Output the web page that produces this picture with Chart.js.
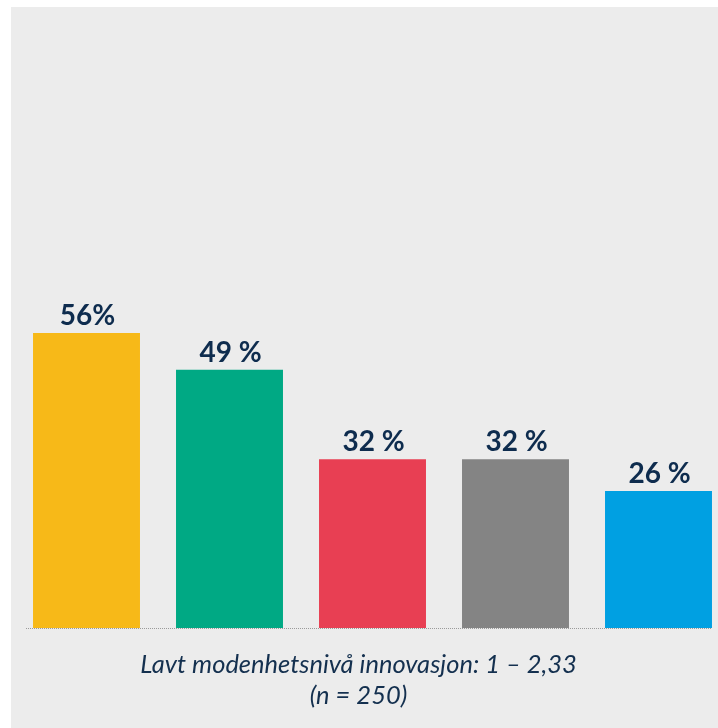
<!DOCTYPE html>
<html>
<head>
<meta charset="utf-8">
<script src="https://cdn.jsdelivr.net/npm/chart.js@4.4.1/dist/chart.umd.min.js"></script>
<style>
  html, body { margin: 0; padding: 0; background: #fff; overflow: hidden; width: 718px; height: 728px; }
  #panel { position: absolute; left: 11px; top: 7px; width: 730px; height: 721px; background: #ececec; }
</style>
</head>
<body>
<div id="panel"><canvas id="chart"></canvas></div>
<script>
// Modenhetsnivå innovasjon - lav
const categories = ['A', 'B', 'C', 'D', 'E'];
const values = [56, 49, 32, 32, 26];
const valueLabels = ['56%', '49 %', '32 %', '32 %', '26 %'];
const barColors = ['#f7b918', '#00a984', '#e83f53', '#848484', '#00a0e2'];
const caption = ['Lavt modenhetsnivå innovasjon: 1 – 2,33', '(n = 250)'];

// value labels above each bar
const valueLabelPlugin = {
  id: 'valueLabels',
  afterDatasetsDraw(chart) {
    const ctx = chart.ctx;
    const meta = chart.getDatasetMeta(0);
    ctx.save();
    ctx.font = 'bold 28px Lato';
    ctx.fillStyle = '#0e2c4e';
    ctx.textAlign = 'center';
    ctx.textBaseline = 'alphabetic';
    meta.data.forEach((bar, i) => {
      ctx.fillText(valueLabels[i], bar.x + 1, bar.y - 8);
    });
    ctx.restore();
  }
};

// dotted baseline + caption under it
const baselinePlugin = {
  id: 'baseline',
  afterDatasetsDraw(chart) {
    const ctx = chart.ctx;
    const y = chart.scales.y.getPixelForValue(0) + 0.5;
    ctx.save();
    ctx.strokeStyle = '#9a9a9a';
    ctx.lineWidth = 1;
    ctx.setLineDash([1, 1]);
    ctx.beginPath();
    ctx.moveTo(15, y);
    ctx.lineTo(701, y);
    ctx.stroke();
    ctx.setLineDash([]);
    ctx.font = 'italic 25.5px Lato';
    ctx.fillStyle = '#14304f';
    ctx.textAlign = 'center';
    ctx.textBaseline = 'alphabetic';
    caption.forEach((line, i) => {
      ctx.fillText(line, 347.5, y + 44 + i * 31);
    });
    ctx.restore();
  }
};

new Chart(document.getElementById('chart'), {
  type: 'bar',
  data: {
    labels: categories,
    datasets: [{
      data: values,
      backgroundColor: barColors,
      categoryPercentage: 1,
      barPercentage: 0.748
    }]
  },
  options: {
    responsive: true,
    maintainAspectRatio: false,
    animation: false,
    layout: { padding: { left: 4, right: 11, top: 94, bottom: 100 } },
    plugins: { legend: { display: false }, tooltip: { enabled: false } },
    scales: {
      x: {
        display: false
      },
      y: {
        display: false,
        min: 0,
        max: 100
      }
    }
  },
  plugins: [valueLabelPlugin, baselinePlugin]
});
</script>
</body>
</html>
